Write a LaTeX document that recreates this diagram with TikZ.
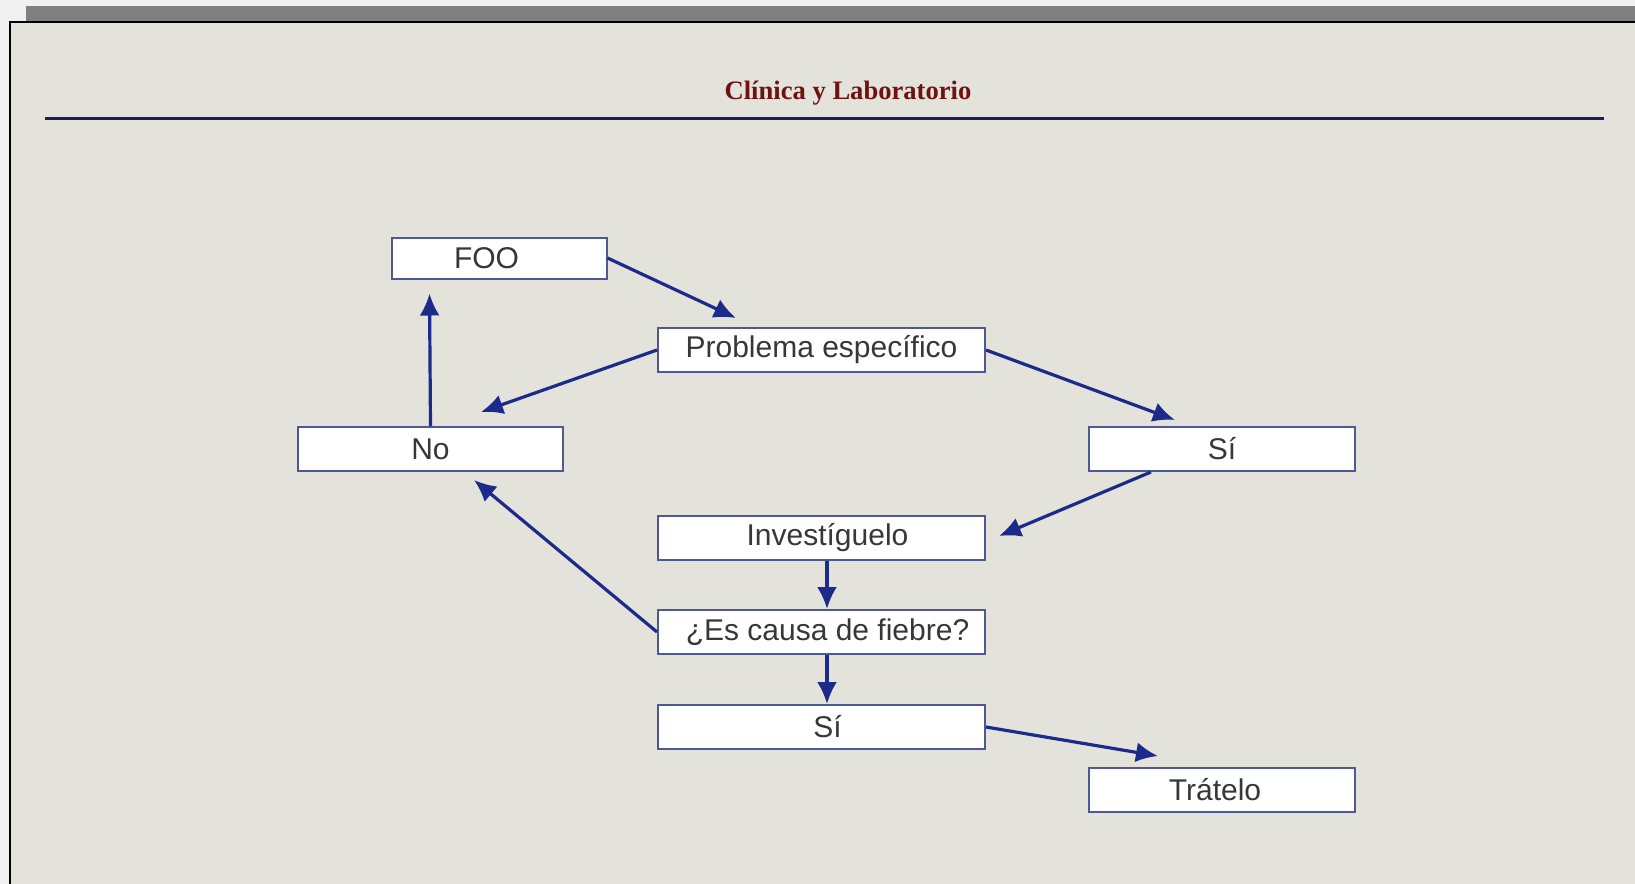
\documentclass[tikz,border=0pt]{standalone}
\usepackage{fontspec}
\setmainfont{Liberation Sans}
\newfontfamily\titlefont{Liberation Serif}
\usetikzlibrary{arrows.meta,calc}

\definecolor{paper}{RGB}{228,227,219}
\definecolor{barGray}{RGB}{128,128,128}
\definecolor{titleRed}{RGB}{110,18,18}
\definecolor{ruleBlue}{RGB}{27,27,94}
\definecolor{arrBlue}{RGB}{28,42,140}
\definecolor{boxLine}{RGB}{78,88,150}
\definecolor{txtGray}{RGB}{55,55,55}

\tikzset{
  stepbox/.style={draw=boxLine, line width=1pt, fill=white, inner sep=0pt,
    font=\fontsize{15}{18}\selectfont, text=txtGray},
  arr/.style={draw=arrBlue, line width=1.6pt, -{Latex[length=11pt,width=10pt]}}
}

\begin{document}
\begin{tikzpicture}[x=0.5pt, y=-0.5pt]
\useasboundingbox (0,0) rectangle (1635,884);

% page background and frame
\fill [gray!12] (0,0) rectangle (1635,884);
\fill [barGray] (26,6) rectangle (1635,22);
\fill [paper] (10,22) rectangle (1635,884);
\draw [black, line width=1pt] (10,884) -- (10,22) -- (1635,22);

% heading
\node [font=\titlefont\bfseries\fontsize{13.3}{16}\selectfont, text=titleRed] (title) at (848, 93) {Clínica y Laboratorio};
\draw [ruleBlue, line width=1.5pt] (45,118) -- (1604,118);

% boxes
\node [stepbox, minimum width=107.5pt, minimum height=20.5pt] (foo) at (499, 258) {FOO\hspace*{12.5pt}};
\node [stepbox, minimum width=163.5pt, minimum height=22pt] (prob) at (821.5, 350) {Problema específico};
\node [stepbox, minimum width=132.5pt, minimum height=22pt] (no) at (430.5, 449) {No};
\node [stepbox, minimum width=133pt, minimum height=22pt] (siA) at (1222, 449) {Sí};
\node [stepbox, minimum width=163.5pt, minimum height=22pt] (inv) at (821.5, 538) {\hspace*{6pt}Investíguelo};
\node [stepbox, minimum width=163.5pt, minimum height=22pt] (esq) at (821.5, 632) {\hspace*{6pt}¿Es causa de fiebre?};
\node [stepbox, minimum width=163.5pt, minimum height=22pt] (siB) at (821.5, 727) {\hspace*{6pt}Sí};
\node [stepbox, minimum width=133pt, minimum height=22pt] (trat) at (1222, 790) {Trátelo\hspace*{7pt}};

% connectors
\draw [arr] (foo.east) -- ($(prob.north west)+(79,-9)$);
\draw [arr] (prob.west) -- ($(no.north west)+(184,-14)$);
\draw [arr] (prob.east) -- ($(siA.north west)+(87,-6)$);
\draw [arr] ($(siA.south west)+(63,0)$) -- ($(inv.east)+(13,-2)$);
\draw [arr] ($(inv.south)+(5.5,0)$) -- ($(esq.north)+(5.5,0)$);
\draw [arr] ($(esq.south)+(5.5,0)$) -- ($(siB.north)+(5.5,0)$);
\draw [arr] (siB.east) -- ($(trat.north west)+(70,-11)$);
\draw [arr] (esq.west) -- ($(no.south)+(43.5,8)$);
\draw [arr] (no.north) -- ($(foo.south west)+(39,14)$);

\end{tikzpicture}
\end{document}
